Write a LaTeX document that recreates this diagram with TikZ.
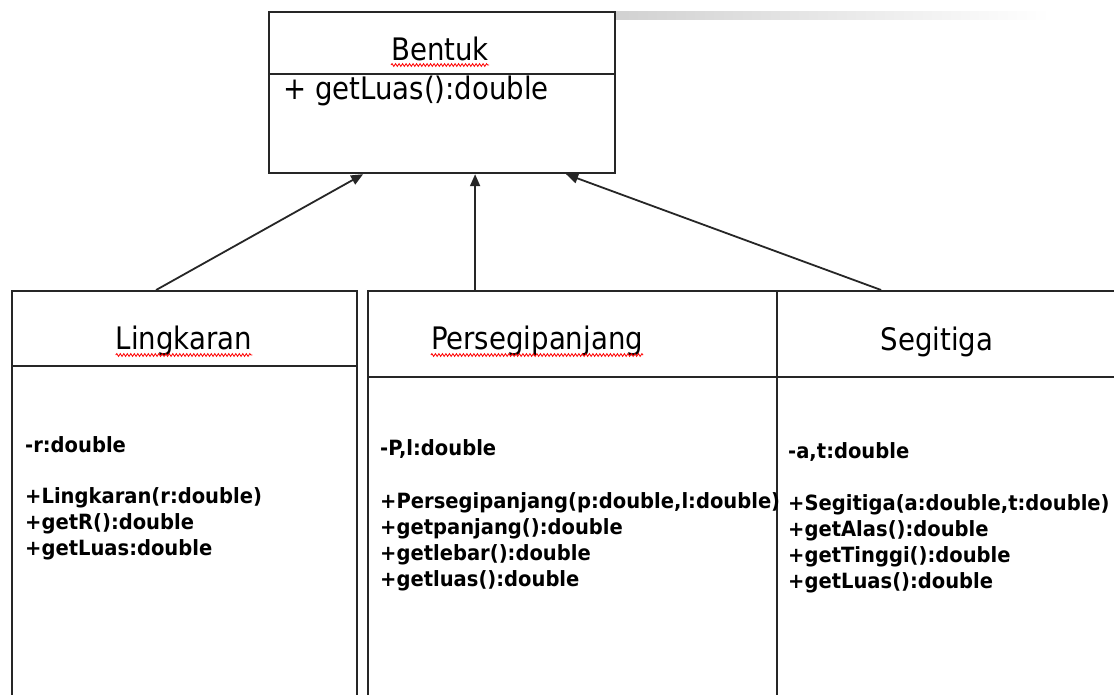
\documentclass[tikz,border=0pt]{standalone}
\usepackage{fontspec}
\setmainfont{DejaVu Sans}
\newfontfamily\titrefont{DejaVu Sans}[FakeStretch=0.89]
\newfontfamily\membrefont{DejaVu Sans}[FakeStretch=0.93]
\usetikzlibrary{arrows.meta,decorations.pathmorphing}

\tikzset{
    classe/.style={draw=black!85, line width=2.2pt, rectangle, inner sep=0pt, anchor=north west},
    titre/.style={font=\titrefont\fontsize{31}{36}\selectfont, inner sep=0pt},
    membre/.style={font=\membrefont\bfseries\fontsize{21}{26}\selectfont, anchor=base west, inner sep=0pt},
    separe/.style={draw=black!85, line width=2.2pt},
    herite/.style={draw=black!85, line width=1.8pt, -{Triangle[length=12pt,width=10pt]}},
    ortho/.style={red, line width=0.8pt, decorate, decoration={snake, amplitude=1.4pt, segment length=3.5pt}}
}

\begin{document}
\begin{tikzpicture}[x=1pt, y=-1pt]
        \useasboundingbox[fill=white] (0,0) rectangle (1114,694);
        \clip (0,0) rectangle (1114,694);

        % Ombre en haut
        \shade[left color=black!18, right color=white] (615,11) rectangle (1050,19);

        % Classe Bentuk
        \node[classe, minimum width=346pt, minimum height=161pt] (bentuk) at (268,11) {};
        \draw[separe] (bentuk.west |- 0,74) -- (bentuk.east |- 0,74);
        \node[titre, anchor=base] (t-bentuk) at (440,60) {Bentuk};
        \node[titre, anchor=base west] (m-bentuk) at (283,99) {+ getLuas():double};

        % Classes filles
        \node[classe, minimum width=345pt, minimum height=440pt] (lingkaran) at (11,290) {};
        \node[classe, minimum width=409pt, minimum height=440pt] (persegi) at (367,290) {};
        \node[classe, minimum width=360pt, minimum height=440pt] (segitiga) at (776,290) {};
        \draw[separe] (lingkaran.west |- 0,366) -- (lingkaran.east |- 0,366);
        \draw[separe] (persegi.west |- 0,377) -- (segitiga.east |- 0,377);

        % Noms des classes
        \node[titre, anchor=base] (t-lingkaran) at (184,349) {Lingkaran};
        \node[titre, anchor=base] (t-persegi) at (537,349) {Persegipanjang};
        \node[titre, anchor=base] (t-segitiga) at (937,350) {Segitiga};

        % Soulignement du correcteur
        \draw[ortho] ([yshift=-5pt]t-bentuk.base west) -- ([yshift=-5pt]t-bentuk.base east);
        \draw[ortho] ([yshift=-6pt]t-lingkaran.base west) -- ([yshift=-6pt]t-lingkaran.base east);
        \draw[ortho] ([yshift=-6pt]t-persegi.base west) -- ([yshift=-6pt]t-persegi.base east);

        % Membres de Lingkaran
        \node[membre] (l-attr) at (25,452) {-r:double};
        \foreach \m [count=\i] in {+Lingkaran(r:double), +getR():double, +getLuas:double}
            \node[membre] (l-m\i) at (25,477+26*\i) {\m};

        % Membres de Persegipanjang
        \node[membre] (p-attr) at (380,455) {-P,l:double};
        \foreach \m [count=\i] in {{+Persegipanjang(p:double,l:double)}, +getpanjang():double, +getlebar():double, +getluas():double}
            \node[membre] (p-m\i) at (380,482+26*\i) {\m};

        % Membres de Segitiga
        \node[membre] (s-attr) at (788,458) {-a,t:double};
        \foreach \m [count=\i] in {{+Segitiga(a:double,t:double)}, +getAlas():double, +getTinggi():double, +getLuas():double}
            \node[membre] (s-m\i) at (788,484+26*\i) {\m};

        % Heritage
        \draw[herite] ([xshift=-28.5pt]lingkaran.north) -- ([xshift=-79pt]bentuk.south);
        \draw[herite] ([xshift=-97.5pt]persegi.north) -- ([xshift=33pt]bentuk.south);
        \draw[herite] ([xshift=-76pt]segitiga.north) -- ([xshift=124pt]bentuk.south);
\end{tikzpicture}
\end{document}
